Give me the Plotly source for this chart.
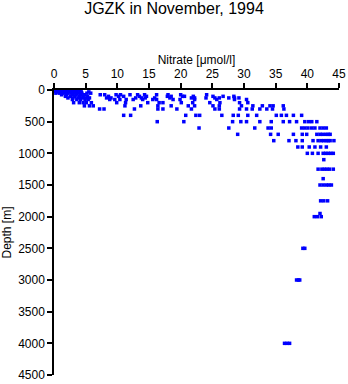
import plotly.graph_objects as go

# Nitrate [umol/l] values grouped by sampling depth [m]
depth_levels = [0, 10, 20, 30, 50, 75, 100, 125, 150, 200, 250, 300, 400, 500,
                600, 700, 800, 900, 1000, 1100, 1250, 1400, 1500, 1750, 1950,
                2000, 2500, 3000, 4000]

nitrate_by_level = [
    [0.0, 0.3, 0.6, 1.0, 1.3, 1.7, 2.0, 2.4, 2.9, 3.3, 3.8],
    [0.1, 0.5, 0.9, 1.2, 1.6, 2.1, 2.6, 3.0, 3.5],
    [0.2, 0.7, 1.1, 1.5, 1.9, 2.3, 2.8, 3.4, 4.1],
    [0.4, 0.8, 1.4, 2.0, 2.5, 3.1, 3.6, 4.3, 5.5],
    [0.3, 0.9, 1.6, 2.2, 2.7, 3.2, 3.9, 4.4, 5.2, 5.8],
    [1.2, 2.0, 2.9, 3.5, 4.2, 4.8, 7.3, 8.0, 9.8, 10.5, 12.0, 13.2, 14.3, 16.2, 18.0, 20.0, 24.1],
    [1.8, 2.6, 3.3, 4.0, 4.6, 5.3, 8.6, 10.2, 11.0, 13.5, 14.6, 17.9, 18.5, 20.3, 20.6, 22.0, 25.1, 26.7, 28.4],
    [2.2, 3.0, 3.8, 4.5, 5.0, 5.6, 8.3, 9.0, 12.9, 13.8, 14.4, 15.9, 18.3, 21.7, 22.2, 24.0, 25.4, 26.1, 27.6, 28.5, 29.2],
    [2.9, 3.6, 4.2, 4.9, 5.4, 8.8, 9.6, 10.4, 11.4, 12.5, 14.0, 15.6, 16.2, 18.8, 19.9, 22.2, 25.7, 28.5, 30.4],
    [3.1, 4.0, 4.6, 5.1, 5.9, 9.9, 11.3, 14.8, 16.6, 17.2, 20.1, 21.9, 24.6, 26.2, 29.3, 30.6],
    [4.8, 5.6, 6.2, 11.2, 13.7, 16.4, 18.5, 21.2, 22.2, 25.1, 26.1, 29.6, 31.4, 32.9, 34.1, 34.6, 36.2],
    [7.2, 7.9, 12.7, 16.4, 17.2, 19.4, 21.7, 25.4, 26.1, 29.3, 30.4, 31.3, 32.5, 33.6, 34.5, 36.3],
    [11.0, 12.1, 20.8, 22.4, 23.0, 26.5, 28.3, 29.1, 30.6, 32.0, 35.1, 35.9, 36.7, 37.8, 39.1],
    [16.3, 20.5, 28.2, 29.5, 30.4, 32.5, 34.3, 36.2, 37.2, 38.3, 39.6, 40.2, 40.7, 41.5],
    [22.9, 27.6, 31.7, 33.8, 34.3, 39.1, 39.6, 40.1, 40.7, 41.2, 42.0, 42.5, 43.0],
    [29.0, 34.2, 35.4, 37.8, 39.2, 39.9, 41.5, 42.0, 42.4, 42.9, 43.3, 43.6],
    [34.7, 37.1, 38.2, 39.2, 40.9, 41.7, 42.2, 42.6, 43.0, 43.3, 43.6, 44.2],
    [38.5, 39.2, 40.3, 41.2, 42.1, 43.0],
    [40.0, 40.8, 41.7, 42.5, 42.9, 43.3, 43.7, 44.1],
    [42.6],
    [41.7, 42.3, 42.7, 43.1, 43.5, 44.1],
    [42.5],
    [42.0, 42.5, 43.0, 43.4, 43.8],
    [42.1, 42.6, 43.2],
    [42.0],
    [41.1, 41.6, 42.2],
    [39.3, 39.6],
    [38.3, 38.6, 38.8],
    [36.4, 36.8, 37.2],
]

nitrate = []
depth = []
for d, vals in zip(depth_levels, nitrate_by_level):
    for v in vals:
        nitrate.append(v)
        depth.append(d)

x_ticks = [0, 5, 10, 15, 20, 25, 30, 35, 40, 45]
y_ticks = [0, 500, 1000, 1500, 2000, 2500, 3000, 3500, 4000, 4500]

FONT = "Liberation Sans, Arial, Helvetica, sans-serif"

fig = go.Figure(go.Scatter(
    x=nitrate, y=depth, mode="markers",
    marker=dict(symbol="square", size=3.5, color="#0000ff", line=dict(width=0)),
    hoverinfo="x+y",
))

fig.update_layout(
    width=348, height=384,
    margin=dict(l=54, r=9, t=90, b=9, autoexpand=False),
    paper_bgcolor="white", plot_bgcolor="white",
    showlegend=False,
    font=dict(family=FONT, size=12, color="black"),
    title=dict(text="JGZK in November, 1994", x=0.5, xanchor="center",
               y=1 - 8 / 384, yanchor="middle", yref="container",
               font=dict(family=FONT, size=16, color="black")),
    xaxis=dict(side="top", range=[0, 45], tickvals=x_ticks,
               ticktext=[str(t) for t in x_ticks], automargin=False,
               ticks="outside", ticklen=5, tickwidth=1.5, tickcolor="black",
               showline=True, linecolor="black", linewidth=1.5,
               showgrid=False, zeroline=False, mirror=False,
               title=dict(text="Nitrate [μmol/l]", standoff=0,
                          font=dict(family=FONT, size=12, color="black")),
               tickfont=dict(family=FONT, size=12, color="black")),
    yaxis=dict(range=[4500, 0], tickvals=y_ticks,
               ticktext=[str(t) for t in y_ticks], automargin=False,
               ticks="outside", ticklen=5, tickwidth=1.5, tickcolor="black",
               showline=True, linecolor="black", linewidth=1.5,
               showgrid=False, zeroline=False, mirror=False,
               title=dict(text="Depth [m]", standoff=4,
                          font=dict(family=FONT, size=12, color="black")),
               tickfont=dict(family=FONT, size=12, color="black")),
)

fig.write_html("out.html")
